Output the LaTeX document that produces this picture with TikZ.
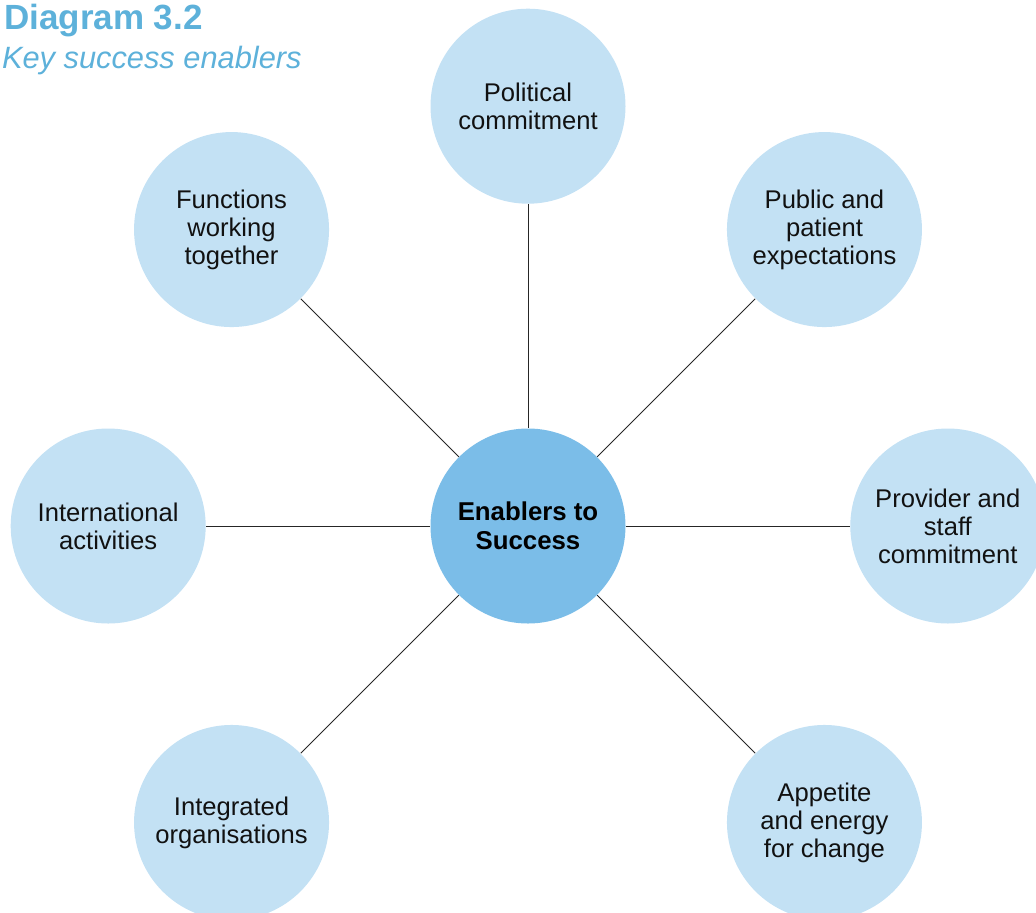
\documentclass[tikz,border=0pt]{standalone}
\usepackage{fontspec}
\setsansfont{Liberation Sans}
\usetikzlibrary{positioning}

\begin{document}
\begin{tikzpicture}[
    node distance=112pt,
    font=\sffamily
]

\definecolor{colorout}{HTML}{C3E1F4}
\definecolor{colorhub}{HTML}{7BBDE8}
\definecolor{colortitle}{HTML}{5DB1DA}
\definecolor{mytext}{HTML}{111111}

\tikzset{
    enabler/.style={
        circle,
        fill=colorout,
        minimum size=97.5pt,
        inner sep=0pt,
        text=mytext,
        font=\sffamily\fontsize{12.8}{14}\selectfont,
        align=center
    },
    hub/.style={
        enabler,
        fill=colorhub,
        text=black,
        font=\sffamily\bfseries\fontsize{12.9}{14.5}\selectfont
    },
    link/.style={
        draw=black!85,
        line width=0.45pt
    }
}

\useasboundingbox (-264pt,-193pt) rectangle (254pt,263pt);

% Title
\node[anchor=base east, inner sep=0pt, text=colortitle,
      font=\sffamily\bfseries\fontsize{17.5}{20}\selectfont] (title) at (-162.5pt,248.5pt) {Diagram 3.2};
\node[anchor=base east, inner sep=0pt, text=colortitle,
      font=\sffamily\itshape\fontsize{15.4}{18}\selectfont] (subtitle) at (-113pt,229pt) {Key success enablers};

% Nodes
\node[hub] (enab) at (0,0) {Enablers to\\Success};
\node[enabler, above=of enab] (pol) {Political\\commitment};
\node[enabler, above right=79pt and 79pt of enab] (pub) {Public and\\patient\\expectations};
\node[enabler, right=of enab] (prov) {Provider and\\staff\\commitment};
\node[enabler, below right=79pt and 79pt of enab] (app) {Appetite\\and energy\\for change};
\node[enabler, below left=79pt and 79pt of enab] (integ) {Integrated\\organisations};
\node[enabler, left=of enab] (intl) {International\\activities};
\node[enabler, above left=79pt and 79pt of enab] (func) {Functions\\working\\together};

% Spokes
\foreach \n in {pol, pub, prov, app, integ, intl, func}
    \draw[link] (enab) -- (\n);

\end{tikzpicture}
\end{document}
